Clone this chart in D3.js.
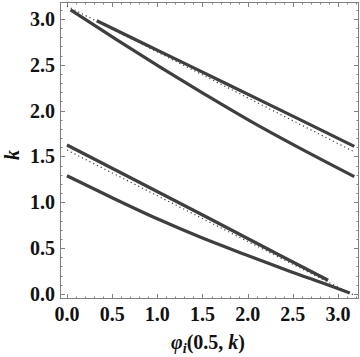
<!DOCTYPE html>
<html>
<head>
<meta charset="utf-8">
<script src="https://cdn.jsdelivr.net/npm/d3@7"></script>
<style>
  body { margin: 0; background: #fff; }
  svg { display: block; }
</style>
</head>
<body>
<svg id="canvas" width="360" height="357"></svg>
<script>
// solid curves, [phi, k]
let upperOuter = [[0.33, 2.98], [1.25, 2.54], [2.25, 2.06], [3.18, 1.61]]
let upperInner = [[0.04, 3.10], [0.54, 2.78], [1.04, 2.47], [1.54, 2.17], [2.04, 1.88], [2.54, 1.61], [3.18, 1.28]]
let lowerOuter = [[0.0, 1.625], [1.25, 0.99], [2.36, 0.42], [2.89, 0.15]]
let lowerInner = [[0.0, 1.29], [0.5, 1.05], [1.0, 0.82], [1.5, 0.61], [2.0, 0.42], [2.5, 0.235], [2.8, 0.13], [3.13, 0.01]]

// dotted reference lines
let dottedUpper = [[0.0, 3.14], [3.18, 1.55]]
let dottedLower = [[0.0, 1.57], [3.17, -0.01]]

let xTicks = [0.0, 0.5, 1.0, 1.5, 2.0, 2.5, 3.0]
let yTicks = [0.0, 0.5, 1.0, 1.5, 2.0, 2.5, 3.0]

let canvas = d3.select("#canvas")

let serif = "'Liberation Serif', 'DejaVu Serif', 'Times New Roman', serif"

let frameLeft = 60, frameRight = 359, frameTop = 2, frameBottom = 299

let xScale = d3.scaleLinear().domain([-0.077, 3.232]).range([frameLeft, frameRight])
let yScale = d3.scaleLinear().domain([-0.055, 3.185]).range([frameBottom, frameTop])

let lineColor = "#3f3f3f"
let frameColor = "#808080"

let drawLine = (data, dotted) => {
    let line = d3.line()
        .x((d) => xScale(d[0]))
        .y((d) => yScale(d[1]))
        .curve(d3.curveCatmullRom)
    let path = canvas.append("path")
        .datum(data)
        .attr("d", line)
        .attr("fill", "none")
        .attr("stroke", lineColor)
    if (dotted) {
        path.attr("stroke-width", 1.2)
            .attr("stroke-dasharray", "1.2,3")
    } else {
        path.attr("stroke-width", 3.2)
            .attr("stroke-linecap", "butt")
    }
}

let minorX = d3.range(0, 33).map((i) => i / 10).filter((v) => v <= 3.2)
let minorY = d3.range(0, 32).map((i) => i / 10).filter((v) => v <= 3.18)

let drawFrame = () => {
    // ticks on all four sides, pointing in
    let g = canvas.append("g").attr("stroke", frameColor).attr("stroke-width", 1)
    minorX.forEach((v) => {
        let major = Math.abs(v * 2 - Math.round(v * 2)) < 1e-6
        let len = major ? 5 : 2.5
        let x = Math.round(xScale(v)) + 0.5
        g.append("line").attr("x1", x).attr("x2", x).attr("y1", frameBottom).attr("y2", frameBottom - len)
        g.append("line").attr("x1", x).attr("x2", x).attr("y1", frameTop).attr("y2", frameTop + len)
    })
    minorY.forEach((v) => {
        let major = Math.abs(v * 2 - Math.round(v * 2)) < 1e-6
        let len = major ? 5 : 2.5
        let y = Math.round(yScale(v)) + 0.5
        g.append("line").attr("y1", y).attr("y2", y).attr("x1", frameLeft).attr("x2", frameLeft + len)
        g.append("line").attr("y1", y).attr("y2", y).attr("x1", frameRight).attr("x2", frameRight - len)
    })
    canvas.append("rect")
        .attr("x", frameLeft + 0.5)
        .attr("y", frameTop + 0.5)
        .attr("width", frameRight - frameLeft - 1)
        .attr("height", frameBottom - frameTop - 1)
        .attr("fill", "none")
        .attr("stroke", frameColor)
        .attr("stroke-width", 1)

    canvas.selectAll(".xlab")
        .data(xTicks)
        .enter()
        .append("text")
        .attr("font-family", serif)
        .attr("font-weight", "bold")
        .attr("font-size", 20)
        .attr("fill", "#111")
        .attr("x", (d) => xScale(d))
        .attr("y", 321)
        .attr("text-anchor", "middle")
        .text((d) => d.toFixed(1))

    canvas.selectAll(".ylab")
        .data(yTicks)
        .enter()
        .append("text")
        .attr("font-family", serif)
        .attr("font-weight", "bold")
        .attr("font-size", 20)
        .attr("fill", "#111")
        .attr("x", 55)
        .attr("y", (d) => yScale(d) + 7)
        .attr("text-anchor", "end")
        .text((d) => d.toFixed(1))

    // axis titles
    canvas.append("text")
        .attr("font-family", serif)
        .attr("font-weight", "bold")
        .attr("font-size", 20)
        .attr("fill", "#111")
        .attr("transform", "translate(19,155) rotate(-90)")
        .attr("text-anchor", "middle")
        .attr("font-style", "italic")
        .text("k")

    let xt = canvas.append("text")
        .attr("font-family", serif)
        .attr("font-weight", "bold")
        .attr("font-size", 20)
        .attr("fill", "#111")
        .attr("x", 208)
        .attr("y", 349)
        .attr("text-anchor", "middle")
    xt.append("tspan").attr("font-style", "italic").text("φ")
    xt.append("tspan").attr("font-style", "italic").attr("font-size", "14px").attr("dy", 4).text("i")
    xt.append("tspan").attr("dy", -4).text("(0.5, ")
    xt.append("tspan").attr("font-style", "italic").text("k")
    xt.append("tspan").text(")")
}

drawFrame()
drawLine(dottedUpper, true)
drawLine(dottedLower, true)
drawLine(upperOuter, false)
drawLine(upperInner, false)
drawLine(lowerOuter, false)
drawLine(lowerInner, false)
</script>
</body>
</html>
